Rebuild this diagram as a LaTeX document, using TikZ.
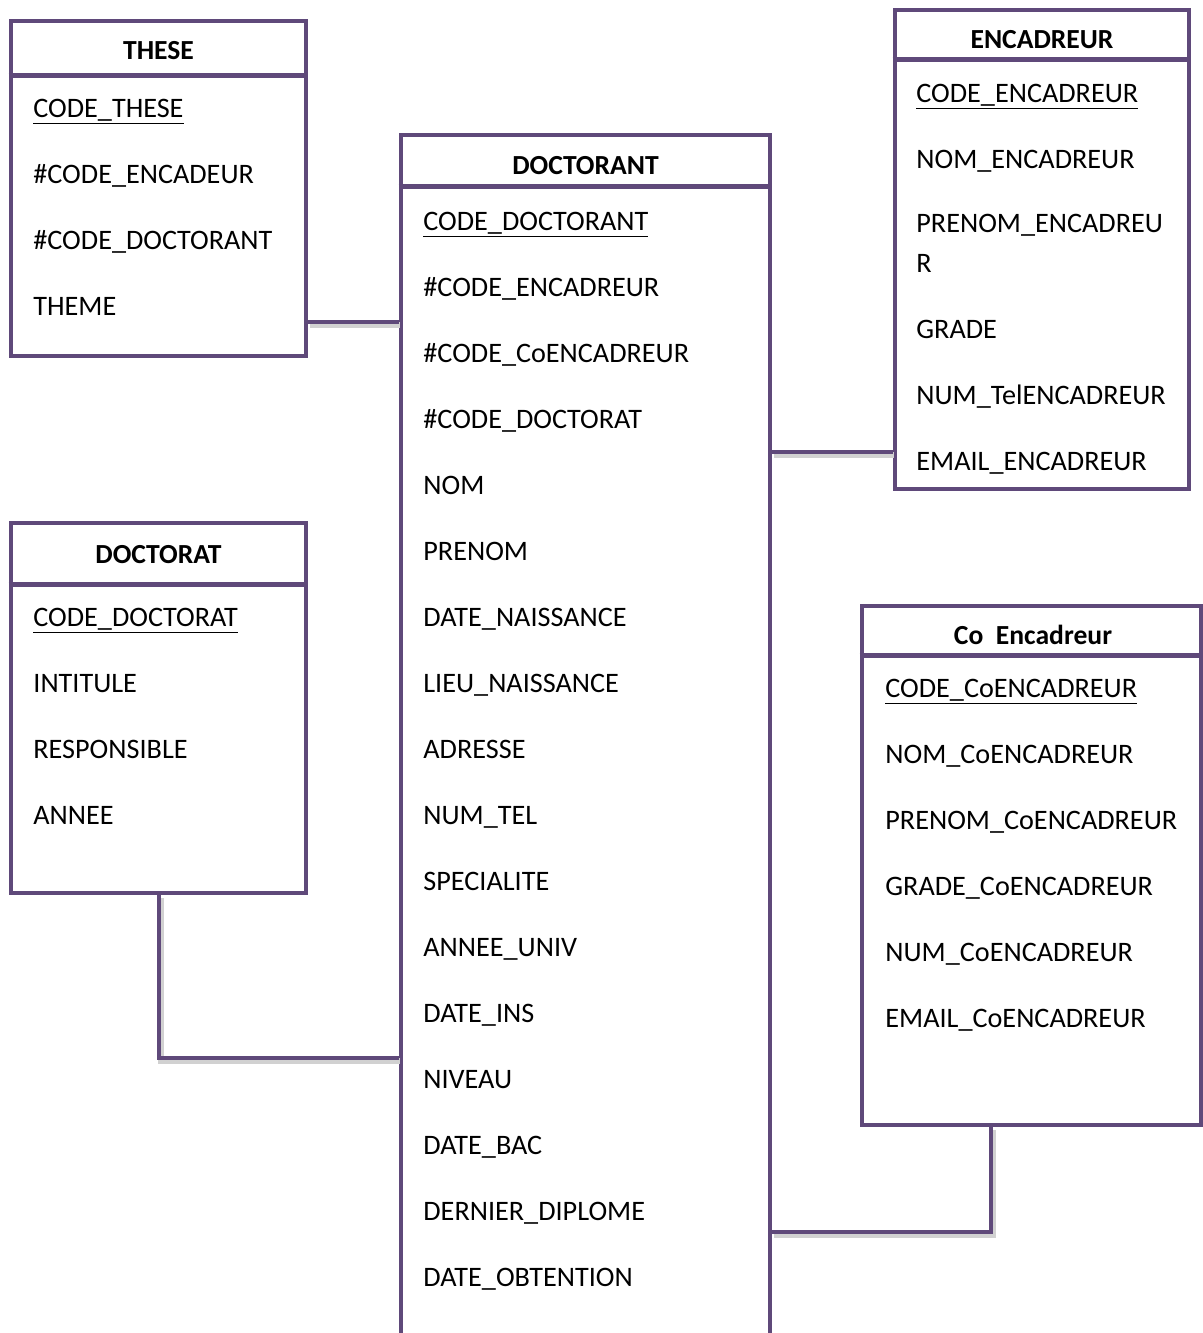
\documentclass[tikz,border=0pt]{standalone}
\usepackage{fontspec}
\setmainfont{Carlito}
\usepackage{tikz}
\usetikzlibrary{positioning,calc}
\definecolor{merisepurple}{HTML}{5F497A}

\begin{document}
\begin{tikzpicture}[
    x=0.5pt, y=-0.5pt,
    entity/.style={draw=merisepurple, line width=2.3pt, rectangle, inner sep=0pt},
    sep/.style={draw=merisepurple, line width=2.3pt},
    title/.style={anchor=base, inner sep=0pt, font=\fontsize{13.8}{16}\selectfont\bfseries},
    attr/.style={anchor=base west, align=left, inner sep=0pt, font=\fontsize{14.1}{33}\selectfont},
    link/.style={draw=merisepurple, line width=2.3pt,
                 preaction={draw=black!18, line width=3pt, transform canvas={shift={(0.8pt,-1.4pt)}}}}
]
\useasboundingbox (0,0) rectangle (1203,1333);
\clip (0,0) rectangle (1203,1333);

% attribute lists are placed by the baseline of their last line

% --- THESE (top left) ---
\node[entity, minimum width=147.5pt, minimum height=167.5pt] (these) at (158.5,188.5) {};
\draw[sep] ([yshift=-28.5pt]these.north west) -- ([yshift=-28.5pt]these.north east);
\node[title] (these-t) at (158.5,59) {THESE};
\node[attr] (these-a) at (33,315) {\underline{CODE\_THESE}\\ \#CODE\_ENCADEUR\\ \#CODE\_DOCTORANT\\ THEME};

% --- DOCTORAT (bottom left) ---
\node[entity, minimum width=147.5pt, minimum height=185pt] (doctorat) at (158.5,708) {};
\draw[sep] ([yshift=-32pt]doctorat.north west) -- ([yshift=-32pt]doctorat.north east);
\node[title] (doctorat-t) at (158.5,563) {DOCTORAT};
\node[attr] (doctorat-a) at (33,824) {\underline{CODE\_DOCTORAT}\\ INTITULE\\ RESPONSIBLE\\ ANNEE};

% --- DOCTORANT (middle, runs off the page) ---
\node[entity, minimum width=184.5pt, minimum height=612.5pt] (doctorant) at (585.5,747.5) {};
\draw[sep] ([yshift=-27pt]doctorant.north west) -- ([yshift=-27pt]doctorant.north east);
\node[title] (doctorant-t) at (585.5,174) {DOCTORANT};
\node[attr] (doctorant-a) at (423,1286) {\underline{CODE\_DOCTORANT}\\ \#CODE\_ENCADREUR\\ \#CODE\_CoENCADREUR\\
    \#CODE\_DOCTORAT\\ NOM\\ PRENOM\\ DATE\_NAISSANCE\\ LIEU\_NAISSANCE\\ ADRESSE\\ NUM\_TEL\\
    SPECIALITE\\ ANNEE\_UNIV\\ DATE\_INS\\ NIVEAU\\ DATE\_BAC\\ DERNIER\_DIPLOME\\ DATE\_OBTENTION};

% --- ENCADREUR (top right) ---
\node[entity, minimum width=147pt, minimum height=239.5pt] (encadreur) at (1042,249.5) {};
\draw[sep] ([yshift=-26pt]encadreur.north west) -- ([yshift=-26pt]encadreur.north east);
\node[title] (encadreur-t) at (1042,48) {ENCADREUR};
\node[attr] (encadreur-a) at (916,470) {\underline{CODE\_ENCADREUR}\\ NOM\_ENCADREUR\\[-1pt] PRENOM\_ENCADREU\\[-13pt] R\\
    GRADE\\ NUM\_TelENCADREUR\\ EMAIL\_ENCADREUR};

% --- Co Encadreur (bottom right) ---
\node[entity, minimum width=169.5pt, minimum height=259.5pt] (coenc) at (1031.5,865.5) {};
\draw[sep] ([yshift=-26pt]coenc.north west) -- ([yshift=-26pt]coenc.north east);
\node[title] (coenc-t) at (1033,644) {Co~ Encadreur};
\node[attr] (coenc-a) at (885,1027) {\underline{CODE\_CoENCADREUR}\\ NOM\_CoENCADREUR\\ PRENOM\_CoENCADREUR\\
    GRADE\_CoENCADREUR\\ NUM\_CoENCADREUR\\ EMAIL\_CoENCADREUR};

% links to DOCTORANT
\coordinate (k1) at (0,322);
\coordinate (k2) at (0,452);
\coordinate (k3) at (159,1058);
\coordinate (k4) at (991,1232);
\draw[link] (these.east |- k1) -- (doctorant.west |- k1);
\draw[link] (doctorant.east |- k2) -- (encadreur.west |- k2);
\draw[link] (doctorat.south -| k3) |- (doctorant.west |- k3);
\draw[link] (coenc.south -| k4) |- (doctorant.east |- k4);

\end{tikzpicture}
\end{document}
